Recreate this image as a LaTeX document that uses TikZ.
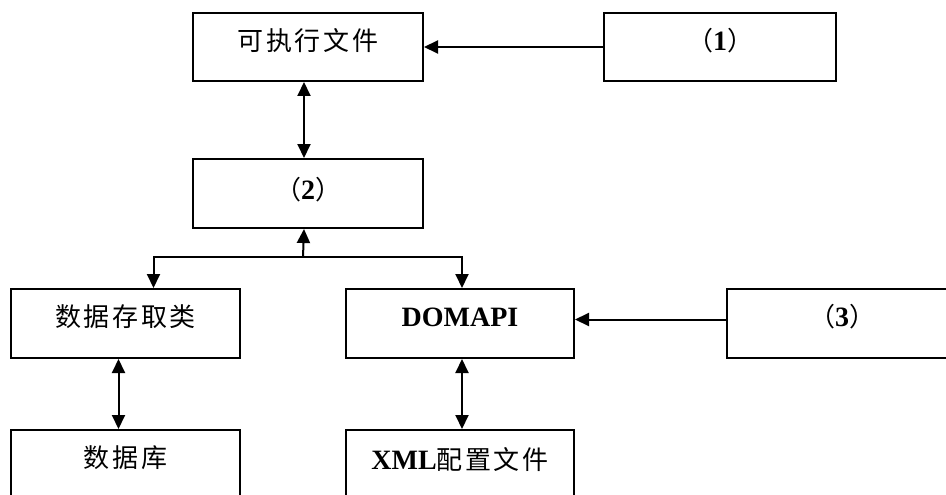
\documentclass[tikz,border=0pt]{standalone}
\usepackage{fontspec}
\setmainfont{Liberation Serif}
\newfontfamily\cjkfam[LetterSpace=10]{Noto Sans CJK SC}
\usetikzlibrary{arrows.meta}
\newcommand\mycjk{\cjkfam\fontsize{26}{30}\selectfont}
\newcommand\mylat{\rmfamily\bfseries\fontsize{28}{32}\selectfont}
\begin{document}
\begin{tikzpicture}[x=1pt,y=-1pt,
  box/.style={draw,line width=2pt,minimum height=68pt,inner sep=0pt,anchor=north west},
  lbl/.style={anchor=center,yshift=-29pt,inner sep=0pt},
  arr/.style={line width=2pt,-{Triangle[length=14pt,width=13pt]}},
  darr/.style={line width=2pt,{Triangle[length=14pt,width=13pt]}-{Triangle[length=14pt,width=13pt]}}]
\clip (0,0) rectangle (946,495);
\fill[white] (0,0) rectangle (946,495);
% boxes
\node[box,minimum width=230pt,label={[lbl]north:{\mycjk 可执行文件}}] (exe) at (192,12) {};
\node[box,minimum width=232pt,label={[lbl]north:{\mycjk （}{\mylat 1}{\mycjk ）}}] (q1) at (603,12) {};
\node[box,minimum width=230pt,minimum height=69pt,label={[lbl,yshift=-3pt]north:{\mycjk （}{\mylat 2}{\mycjk ）}}] (q2) at (192,158) {};
\node[box,minimum width=229pt,minimum height=69pt,label={[lbl]north:{\mycjk 数据存取类}}] (dao) at (10,288) {};
\node[box,minimum width=228pt,minimum height=69pt,label={[lbl]north:{\mylat DOMAPI}}] (dom) at (345,288) {};
\node[box,minimum width=230pt,minimum height=69pt,label={[lbl]north:{\mycjk （}{\mylat 3}{\mycjk ）}}] (q3) at (726,288) {};
\node[box,minimum width=229pt,label={[lbl]north:{\mycjk 数据库}}] (db) at (10,429) {};
\node[box,minimum width=228pt,label={[lbl,yshift=-2pt]north:{\mylat XML}{\mycjk 配置文件}}] (xml) at (345,429) {};
% connectors
\draw[arr] (q1.west) -- (exe.east);
\draw[darr] ([xshift=-4pt]exe.south) -- ([xshift=-4pt]q2.north);
\coordinate (bus) at (303,257);
\draw[arr] (bus) -- ([xshift=-4pt]q2.south);
\draw[arr] (bus) -| ([xshift=28pt]dao.north);
\draw[arr] (bus) -| ([xshift=2pt]dom.north);
\draw[darr] ([xshift=-7pt]dao.south) -- ([xshift=-7pt]db.north);
\draw[darr] ([xshift=2pt]dom.south) -- ([xshift=2pt]xml.north);
\draw[arr] ([yshift=4pt]q3.west) -- ([yshift=4pt]dom.east);
\end{tikzpicture}
\end{document}
